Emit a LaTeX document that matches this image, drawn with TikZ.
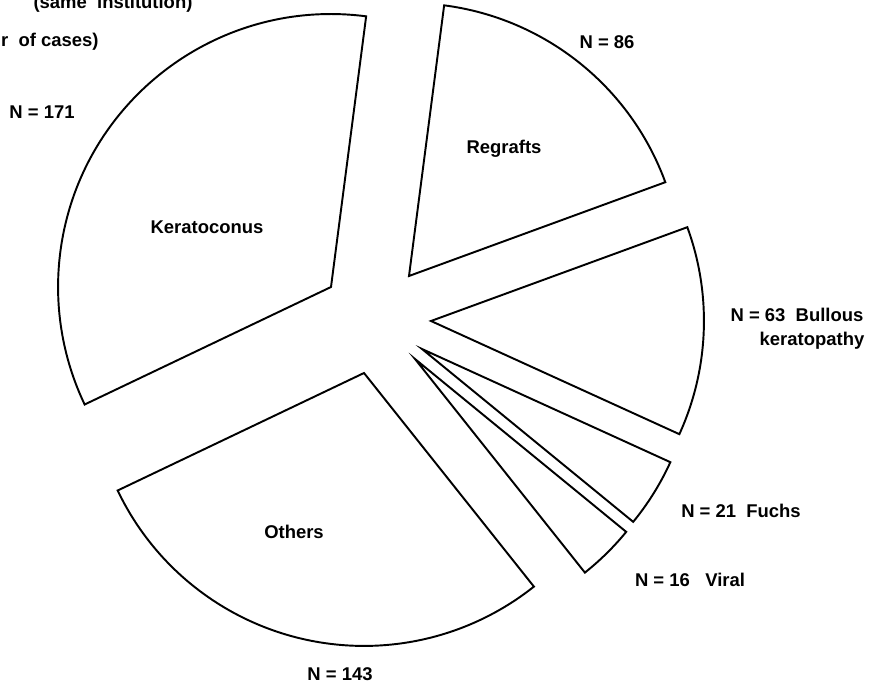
\documentclass[tikz,border=0pt]{standalone}
\usepackage{fontspec}
\setmainfont{Liberation Sans}
\begin{document}
\begin{tikzpicture}[x=0.02cm,y=-0.02cm,
  slice/.style={draw=black, line width=1.1pt, line join=miter},
  lab/.style={font=\bfseries\fontsize{10.5}{12}\selectfont, inner sep=0pt}]
\useasboundingbox (0,0) rectangle (890,685);
\clip (0,0) rectangle (890,685);
\def\R{5.46cm}
% slices
\coordinate (kA) at (331,287);
\coordinate (rA) at (409,276);
\coordinate (bA) at (431,321);
\coordinate (fA) at (422,349);
\coordinate (vA) at (415,359);
\coordinate (oA) at (364,373);
\draw[slice] (kA) -- ++(82.6:\R) arc[start angle=82.6, end angle=205.5, radius=\R] -- cycle;
\draw[slice] (rA) -- ++(20.1:\R) arc[start angle=20.1, end angle=82.6, radius=\R] -- cycle;
\draw[slice] (bA) -- ++(-24.5:\R) arc[start angle=-24.5, end angle=20.1, radius=\R] -- cycle;
\draw[slice] (fA) -- ++(-39.3:\R) arc[start angle=-39.3, end angle=-24.5, radius=\R] -- cycle;
\draw[slice] (vA) -- ++(-51.5:\R) arc[start angle=-51.5, end angle=-39.3, radius=\R] -- cycle;
\draw[slice] (oA) -- ++(-154.5:\R) arc[start angle=-154.5, end angle=-51.5, radius=\R] -- cycle;
% labels
\node[lab, anchor=base] (t1) at (113,9) {(same~~institution)};
\node[lab, anchor=base east] (t2) at (99,47) {r~~of cases)};
\node[lab] (n171) at (42,112) {N = 171};
\node[lab] (kera) at (207,227) {Keratoconus};
\node[lab] (n86) at (607,42) {N = 86};
\node[lab] (regr) at (504,149) {Regrafts};
\node[lab] (n63) at (797,315) {N = 63~~Bullous};
\node[lab] (kerp) at (812,341) {keratopathy};
\node[lab] (n21) at (741,511) {N = 21~~Fuchs};
\node[lab] (n16) at (690,580) {N = 16~~~Viral};
\node[lab] (oth) at (294,532) {Others};
\node[lab] (n143) at (340,674) {N = 143};
\end{tikzpicture}
\end{document}
